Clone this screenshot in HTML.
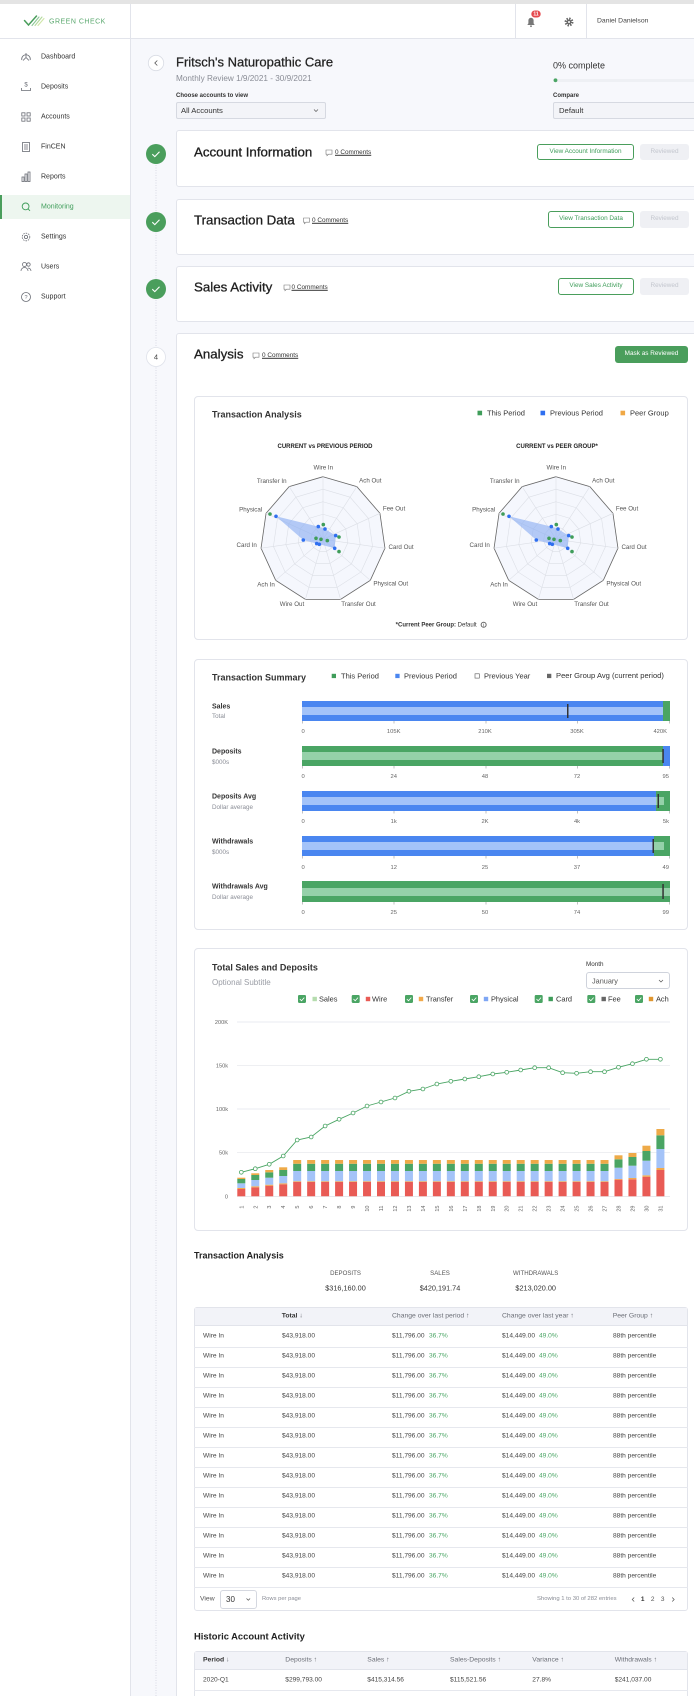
<!DOCTYPE html>
<html><head><meta charset="utf-8"><title>Monitoring</title>
<style>
*{box-sizing:border-box}
html,body{margin:0;padding:0;width:694px;height:1696px;overflow:hidden;background:#f7f8fc}
#p{position:relative;width:694px;height:1696px;overflow:hidden;background:#f7f8fc;font-family:"Liberation Sans",Arial,sans-serif;color:#333}
.t{position:absolute;white-space:nowrap;line-height:1;transform:translateY(-50%)}
.t.c{transform:translate(-50%,-50%)}
.b{position:absolute}
.card{position:absolute;background:#fff;border:1px solid #e2e4eb;border-radius:3px}
.btn{position:absolute;display:flex;align-items:center;justify-content:center;border-radius:3px;font-size:6.4px;white-space:nowrap;line-height:1}
.gb{border:1px solid #4a9e5c;color:#3f9d5a;background:#fff}
.rv{background:#eff0f4;color:#c3c6ce}
.sb{font-size:7px;color:#333}
.ttl{font-size:13.3px;color:#1f1f1f;-webkit-text-stroke:0.3px #1f1f1f}
.cm{font-size:6.4px;color:#333;text-decoration:underline}
.row{position:absolute;left:0;width:694px;height:0}
.row span{position:absolute;white-space:nowrap;line-height:1;transform:translateY(-50%);font-size:6.6px;color:#444}
.row span.g{color:#4aa564}
.row.hd span{font-size:6.8px;color:#6b6e76}
.row.hd span.k{color:#333;font-weight:bold}
.ar{color:#4aa564}
.ln{position:absolute;left:194px;width:494px;height:1px;background:#e6e8ee}
.h9{font-size:9px;font-weight:bold;color:#333}
.lg{font-size:7.5px;color:#333}
.bl{font-size:7px;font-weight:bold;color:#333}
.bs{font-size:6.3px;color:#8a8d96}
</style></head><body>
<div id="p">

<!-- top strip & header -->
<div class="b" style="left:0;top:0;width:694px;height:4px;background:#e4e4e4"></div>
<div class="b" style="left:0;top:4px;width:694px;height:35px;background:#fff;border-bottom:1px solid #e2e4eb"></div>
<div class="b" style="left:130px;top:4px;width:1px;height:35px;background:#e2e4eb"></div>
<div class="b" style="left:515px;top:4px;width:1px;height:35px;background:#e2e4eb"></div>
<div class="b" style="left:586px;top:4px;width:1px;height:35px;background:#e2e4eb"></div>
<div class="t" style="left:49px;top:21.5px;font-size:7px;letter-spacing:0.5px;color:#5aa86e">GREEN CHECK</div>
<div class="t" style="left:597px;top:22px;font-size:6.8px;color:#444">Daniel Danielson</div>

<!-- sidebar -->
<div class="b" style="left:0;top:39px;width:131px;height:1657px;background:#fff;border-right:1px solid #e2e4eb"></div>
<div class="b" style="left:0;top:195px;width:130px;height:24px;background:#edf6ef;border-left:2px solid #4a9e5c"></div>
<div class="t sb" style="left:41px;top:57px">Dashboard</div>
<div class="t sb" style="left:41px;top:87px">Deposits</div>
<div class="t sb" style="left:41px;top:117px">Accounts</div>
<div class="t sb" style="left:41px;top:147px">FinCEN</div>
<div class="t sb" style="left:41px;top:177px">Reports</div>
<div class="t sb" style="left:41px;top:207px;color:#3f9d5a">Monitoring</div>
<div class="t sb" style="left:41px;top:237px">Settings</div>
<div class="t sb" style="left:41px;top:267px">Users</div>
<div class="t sb" style="left:41px;top:297px">Support</div>

<!-- page header -->
<div class="t" style="left:176px;top:62px;font-size:13px;color:#222;-webkit-text-stroke:0.25px #222">Fritsch's Naturopathic Care</div>
<div class="t" style="left:176px;top:79px;font-size:8.2px;color:#8a8d96">Monthly Review 1/9/2021 - 30/9/2021</div>
<div class="t" style="left:176px;top:96px;font-size:6px;font-weight:bold;color:#333">Choose accounts to view</div>
<div class="b" style="left:176px;top:102px;width:150px;height:17px;background:#f3f4f8;border:1px solid #d6d9e1;border-radius:2px"></div>
<div class="t" style="left:181px;top:110.5px;font-size:7.7px;color:#333">All Accounts</div>
<div class="t" style="left:553px;top:66px;font-size:9px;color:#333">0% complete</div>
<div class="b" style="left:553px;top:78.5px;width:160px;height:3.5px;background:#eef0f4;border-radius:2px"></div>
<div class="t" style="left:553px;top:96px;font-size:6px;font-weight:bold;color:#333">Compare</div>
<div class="b" style="left:553px;top:102px;width:160px;height:17px;background:#f3f4f8;border:1px solid #d6d9e1;border-radius:2px"></div>
<div class="t" style="left:559px;top:110.5px;font-size:7.7px;color:#333">Default</div>

<!-- step cards -->
<div class="card" style="left:176px;top:130px;width:540px;height:57px"></div>
<div class="card" style="left:176px;top:199px;width:540px;height:56px"></div>
<div class="card" style="left:176px;top:266px;width:540px;height:56px"></div>
<div class="card" style="left:176px;top:333px;width:540px;height:1400px"></div>

<div class="t ttl" style="left:194px;top:152px">Account Information</div>
<div class="t cm" style="left:335px;top:153px">0 Comments</div>
<div class="btn gb" style="left:537px;top:144px;width:97px;height:16px">View Account Information</div>
<div class="btn rv" style="left:640px;top:144px;width:49px;height:16px">Reviewed</div>

<div class="t ttl" style="left:194px;top:220px">Transaction Data</div>
<div class="t cm" style="left:312px;top:221px">0 Comments</div>
<div class="btn gb" style="left:548px;top:211px;width:86px;height:17px">View Transaction Data</div>
<div class="btn rv" style="left:640px;top:211px;width:49px;height:17px">Reviewed</div>

<div class="t ttl" style="left:194px;top:287px">Sales Activity</div>
<div class="t cm" style="left:291.5px;top:288px">0 Comments</div>
<div class="btn gb" style="left:558px;top:278px;width:76px;height:17px">View Sales Activity</div>
<div class="btn rv" style="left:640px;top:278px;width:49px;height:17px">Reviewed</div>

<div class="t ttl" style="left:194px;top:354px">Analysis</div>
<div class="t cm" style="left:262px;top:356px">0 Comments</div>
<div class="btn" style="left:615px;top:346px;width:73px;height:17px;background:#4a9e5c;color:#fff">Mask as Reviewed</div>

<!-- inner card: radar -->
<div class="card" style="left:194px;top:396px;width:494px;height:244px;border-radius:4px"></div>
<div class="t h9" style="left:212px;top:415px">Transaction Analysis</div>
<div class="t lg" style="left:487px;top:413px">This Period</div>
<div class="t lg" style="left:550px;top:413px">Previous Period</div>
<div class="t lg" style="left:630px;top:413px">Peer Group</div>
<div class="t c" style="left:325px;top:447px;font-size:6px;font-weight:bold;color:#222">CURRENT vs PREVIOUS PERIOD</div>
<div class="t c" style="left:557px;top:447px;font-size:6px;font-weight:bold;color:#222">CURRENT vs PEER GROUP*</div>
<div class="t c" style="left:441px;top:625px;font-size:6px;color:#333"><b>*Current Peer Group:</b> Default <span style="display:inline-block;width:6px;height:6px;border:0.6px solid #666;border-radius:50%;font-size:4.5px;text-align:center;line-height:5.5px;vertical-align:middle;margin-left:2px">i</span></div>

<!-- inner card: summary -->
<div class="card" style="left:194px;top:659px;width:494px;height:271px;border-radius:4px"></div>
<div class="t h9" style="left:212px;top:678px">Transaction Summary</div>
<div class="t lg" style="left:341px;top:676px">This Period</div>
<div class="t lg" style="left:404px;top:676px">Previous Period</div>
<div class="t lg" style="left:484px;top:676px">Previous Year</div>
<div class="t lg" style="left:556px;top:676px;font-size:7.6px">Peer Group Avg (current period)</div>
<div class="t bl" style="left:212px;top:707px">Sales</div>
<div class="t bs" style="left:212px;top:717px">Total</div>
<div class="t bl" style="left:212px;top:752px">Deposits</div>
<div class="t bs" style="left:212px;top:763px">$000s</div>
<div class="t bl" style="left:212px;top:797px">Deposits Avg</div>
<div class="t bs" style="left:212px;top:808px">Dollar average</div>
<div class="t bl" style="left:212px;top:842px">Withdrawals</div>
<div class="t bs" style="left:212px;top:853px">$000s</div>
<div class="t bl" style="left:212px;top:887px">Withdrawals Avg</div>
<div class="t bs" style="left:212px;top:898px">Dollar average</div>

<!-- inner card: total sales -->
<div class="card" style="left:194px;top:948px;width:494px;height:283px;border-radius:4px"></div>
<div class="t h9" style="left:212px;top:968px">Total Sales and Deposits</div>
<div class="t" style="left:212px;top:983px;font-size:8px;color:#9a9da5">Optional Subtitle</div>
<div class="t" style="left:586px;top:965px;font-size:6.3px;color:#333">Month</div>
<div class="b" style="left:586px;top:972px;width:84px;height:17px;border:1px solid #cfd3dc;border-radius:3px;background:#fff"></div>
<div class="t" style="left:592px;top:981px;font-size:7.3px;color:#555">January</div>
<div class="t lg" style="left:319px;top:999px;font-size:7.4px">Sales</div>
<div class="t lg" style="left:372px;top:999px;font-size:7.4px">Wire</div>
<div class="t lg" style="left:426px;top:999px;font-size:7.4px">Transfer</div>
<div class="t lg" style="left:491px;top:999px;font-size:7.4px">Physical</div>
<div class="t lg" style="left:556px;top:999px;font-size:7.4px">Card</div>
<div class="t lg" style="left:608px;top:999px;font-size:7.4px">Fee</div>
<div class="t lg" style="left:656px;top:999px;font-size:7.4px">Ach</div>

<!-- transaction analysis table -->
<div class="t" style="left:194px;top:1256px;font-size:9px;font-weight:bold;color:#222">Transaction Analysis</div>
<div class="t c" style="left:345.5px;top:1274px;font-size:6.1px;color:#555">DEPOSITS</div>
<div class="t c" style="left:345.5px;top:1288px;font-size:7.3px;color:#333">$316,160.00</div>
<div class="t c" style="left:440px;top:1274px;font-size:6.1px;color:#555">SALES</div>
<div class="t c" style="left:440px;top:1288px;font-size:7.3px;color:#333">$420,191.74</div>
<div class="t c" style="left:535.7px;top:1274px;font-size:6.1px;color:#555">WITHDRAWALS</div>
<div class="t c" style="left:535.7px;top:1288px;font-size:7.3px;color:#333">$213,020.00</div>

<div class="card" style="left:194px;top:1307px;width:494px;height:304px"></div>
<div class="b" style="left:195px;top:1308px;width:492px;height:18px;background:#f2f3f8;border-bottom:1px solid #e2e4eb"></div>
<div class="row hd" style="top:1317px"><span class="k" style="left:281.7px">Total <span class="ar" style="position:static;transform:none">↓</span></span><span style="left:392px">Change over last period ↑</span><span style="left:502px">Change over last year ↑</span><span style="left:612.7px">Peer Group ↑</span></div>
<div class="ln" style="top:1346.5px"></div>
<div class="ln" style="top:1366.5px"></div>
<div class="ln" style="top:1386.5px"></div>
<div class="ln" style="top:1406.5px"></div>
<div class="ln" style="top:1426.5px"></div>
<div class="ln" style="top:1446.5px"></div>
<div class="ln" style="top:1466.5px"></div>
<div class="ln" style="top:1486.5px"></div>
<div class="ln" style="top:1506.5px"></div>
<div class="ln" style="top:1526.5px"></div>
<div class="ln" style="top:1546.5px"></div>
<div class="ln" style="top:1566.5px"></div>
<div class="ln" style="top:1586.5px"></div>
<div class="row" style="top:1337px"><span style="left:203px">Wire In</span><span style="left:282px">$43,918.00</span><span style="left:392px">$11,796.00</span><span class="g" style="left:429px">36.7%</span><span style="left:502px">$14,449.00</span><span class="g" style="left:539px">49.0%</span><span style="left:613px">88th percentile</span></div>
<div class="row" style="top:1357px"><span style="left:203px">Wire In</span><span style="left:282px">$43,918.00</span><span style="left:392px">$11,796.00</span><span class="g" style="left:429px">36.7%</span><span style="left:502px">$14,449.00</span><span class="g" style="left:539px">49.0%</span><span style="left:613px">88th percentile</span></div>
<div class="row" style="top:1377px"><span style="left:203px">Wire In</span><span style="left:282px">$43,918.00</span><span style="left:392px">$11,796.00</span><span class="g" style="left:429px">36.7%</span><span style="left:502px">$14,449.00</span><span class="g" style="left:539px">49.0%</span><span style="left:613px">88th percentile</span></div>
<div class="row" style="top:1397px"><span style="left:203px">Wire In</span><span style="left:282px">$43,918.00</span><span style="left:392px">$11,796.00</span><span class="g" style="left:429px">36.7%</span><span style="left:502px">$14,449.00</span><span class="g" style="left:539px">49.0%</span><span style="left:613px">88th percentile</span></div>
<div class="row" style="top:1417px"><span style="left:203px">Wire In</span><span style="left:282px">$43,918.00</span><span style="left:392px">$11,796.00</span><span class="g" style="left:429px">36.7%</span><span style="left:502px">$14,449.00</span><span class="g" style="left:539px">49.0%</span><span style="left:613px">88th percentile</span></div>
<div class="row" style="top:1437px"><span style="left:203px">Wire In</span><span style="left:282px">$43,918.00</span><span style="left:392px">$11,796.00</span><span class="g" style="left:429px">36.7%</span><span style="left:502px">$14,449.00</span><span class="g" style="left:539px">49.0%</span><span style="left:613px">88th percentile</span></div>
<div class="row" style="top:1457px"><span style="left:203px">Wire In</span><span style="left:282px">$43,918.00</span><span style="left:392px">$11,796.00</span><span class="g" style="left:429px">36.7%</span><span style="left:502px">$14,449.00</span><span class="g" style="left:539px">49.0%</span><span style="left:613px">88th percentile</span></div>
<div class="row" style="top:1477px"><span style="left:203px">Wire In</span><span style="left:282px">$43,918.00</span><span style="left:392px">$11,796.00</span><span class="g" style="left:429px">36.7%</span><span style="left:502px">$14,449.00</span><span class="g" style="left:539px">49.0%</span><span style="left:613px">88th percentile</span></div>
<div class="row" style="top:1497px"><span style="left:203px">Wire In</span><span style="left:282px">$43,918.00</span><span style="left:392px">$11,796.00</span><span class="g" style="left:429px">36.7%</span><span style="left:502px">$14,449.00</span><span class="g" style="left:539px">49.0%</span><span style="left:613px">88th percentile</span></div>
<div class="row" style="top:1517px"><span style="left:203px">Wire In</span><span style="left:282px">$43,918.00</span><span style="left:392px">$11,796.00</span><span class="g" style="left:429px">36.7%</span><span style="left:502px">$14,449.00</span><span class="g" style="left:539px">49.0%</span><span style="left:613px">88th percentile</span></div>
<div class="row" style="top:1537px"><span style="left:203px">Wire In</span><span style="left:282px">$43,918.00</span><span style="left:392px">$11,796.00</span><span class="g" style="left:429px">36.7%</span><span style="left:502px">$14,449.00</span><span class="g" style="left:539px">49.0%</span><span style="left:613px">88th percentile</span></div>
<div class="row" style="top:1557px"><span style="left:203px">Wire In</span><span style="left:282px">$43,918.00</span><span style="left:392px">$11,796.00</span><span class="g" style="left:429px">36.7%</span><span style="left:502px">$14,449.00</span><span class="g" style="left:539px">49.0%</span><span style="left:613px">88th percentile</span></div>
<div class="row" style="top:1577px"><span style="left:203px">Wire In</span><span style="left:282px">$43,918.00</span><span style="left:392px">$11,796.00</span><span class="g" style="left:429px">36.7%</span><span style="left:502px">$14,449.00</span><span class="g" style="left:539px">49.0%</span><span style="left:613px">88th percentile</span></div>

<div class="t" style="left:200px;top:1599.5px;font-size:6.8px;color:#555">View</div>
<div class="b" style="left:220px;top:1590px;width:37px;height:19px;border:1px solid #d5d8e0;border-radius:3px;background:#fff"></div>
<div class="t" style="left:226px;top:1599.5px;font-size:8px;color:#333">30</div>
<div class="t" style="left:262px;top:1599.5px;font-size:5.8px;color:#8a8d96">Rows per page</div>
<div class="t" style="left:537px;top:1599.5px;font-size:5.9px;color:#8a8d96">Showing 1 to 30 of 282 entries</div>
<div class="t c" style="left:642.7px;top:1599.5px;font-size:6.5px;font-weight:bold;color:#333">1</div>
<div class="t c" style="left:652.7px;top:1599.5px;font-size:6.5px;color:#555">2</div>
<div class="t c" style="left:662.7px;top:1599.5px;font-size:6.5px;color:#555">3</div>

<!-- historic -->
<div class="t" style="left:194px;top:1636px;font-size:9.4px;font-weight:bold;color:#222">Historic Account Activity</div>
<div class="card" style="left:194px;top:1651px;width:494px;height:80px"></div>
<div class="b" style="left:195px;top:1652px;width:492px;height:18px;background:#f2f3f8;border-bottom:1px solid #e2e4eb"></div>
<div class="row hd" style="top:1661px"><span class="k" style="left:203px">Period <span class="ar" style="position:static;transform:none">↓</span></span><span style="left:285.3px">Deposits ↑</span><span style="left:367.3px">Sales ↑</span><span style="left:450px">Sales-Deposits ↑</span><span style="left:532.3px">Variance ↑</span><span style="left:614.7px">Withdrawals ↑</span></div>
<div class="row" style="top:1681px"><span style="left:203px">2020-Q1</span><span style="left:285.3px">$299,793.00</span><span style="left:367.3px">$415,314.56</span><span style="left:450px">$115,521.56</span><span style="left:532.3px">27.8%</span><span style="left:614.7px">$241,037.00</span></div>
<div class="ln" style="top:1690px"></div>

<!-- SVG overlay -->
<svg class="b" style="left:0;top:0" width="694" height="1696" viewBox="0 0 694 1696" font-family="Liberation Sans, Arial, sans-serif">
<!-- logo -->
<g fill="none" stroke-linecap="round">
<polyline points="24.5,20.5 28.5,25 36.5,16" stroke="#4a9e5c" stroke-width="1.5"/>
<line x1="32" y1="25.5" x2="39" y2="17" stroke="#8cc79a" stroke-width="1.1"/>
<line x1="35" y1="25.5" x2="42" y2="17" stroke="#b2d99b" stroke-width="1.1"/>
<line x1="38" y1="25.5" x2="44" y2="18.5" stroke="#cfe6a8" stroke-width="1.1"/>
</g>
<!-- bell -->
<path d="M527.3,25 L534.7,25 L533.6,23.4 L533.6,20.3 A2.6,2.6 0 0 0 528.4,20.3 L528.4,23.4 Z" fill="#777"/>
<circle cx="531" cy="26.2" r="0.9" fill="#777"/>
<rect x="531.3" y="10.5" width="9.4" height="7" rx="3.5" fill="#e5484d"/>
<text x="536" y="15.6" font-size="5" fill="#fff" font-weight="bold" text-anchor="middle">11</text>
<!-- gear -->
<circle cx="569" cy="22" r="3.3" fill="none" stroke="#666" stroke-width="2.3" stroke-dasharray="1.4 1.2"/>
<circle cx="569" cy="22" r="2.5" fill="#666"/>
<circle cx="569" cy="22" r="1" fill="#fff"/>

<!-- sidebar icons -->
<g fill="none" stroke="#6a6d75" stroke-width="0.8">
<path d="M21.8,60 A4.3,4.3 0 1 1 30.2,60"/><path d="M23,60.5 L26,57.5 L29,60.5"/><line x1="26" y1="53" x2="26" y2="57"/>
<path d="M21.5,88 v2.5 h9 v-2.5"/>
<rect x="21.8" y="112.8" width="3.2" height="3.2"/><rect x="27" y="112.8" width="3.2" height="3.2"/><rect x="21.8" y="118" width="3.2" height="3.2"/><rect x="27" y="118" width="3.2" height="3.2"/>
<rect x="22.5" y="142.5" width="7" height="9"/><line x1="24" y1="145" x2="28" y2="145"/><line x1="24" y1="147" x2="28" y2="147"/><line x1="24" y1="149" x2="28" y2="149"/>
<rect x="22" y="177" width="2" height="4.5"/><rect x="25" y="174" width="2" height="7.5"/><rect x="28" y="172" width="2" height="9.5"/>
<circle cx="26" cy="237" r="3.8" stroke-dasharray="1.5 1"/><circle cx="26" cy="237" r="1.6"/>
<circle cx="24.5" cy="264.5" r="2"/><path d="M21,271 a3.5,3.5 0 0 1 7,0"/><circle cx="28.5" cy="264.5" r="1.7"/><path d="M28,268 a3,3 0 0 1 3,3"/>
<circle cx="26" cy="297" r="4.5"/>
</g>
<text x="26" y="86.5" font-size="6" fill="#6a6d75" text-anchor="middle">$</text>
<text x="26" y="299.2" font-size="5.5" fill="#6a6d75" text-anchor="middle">?</text>
<circle cx="25.6" cy="206.4" r="3.4" fill="none" stroke="#3f9d5a" stroke-width="0.9"/>
<line x1="28" y1="208.8" x2="30" y2="210.8" stroke="#3f9d5a" stroke-width="0.9"/>

<!-- back button & selects -->
<circle cx="156" cy="63" r="7.7" fill="#fff" stroke="#d9dce4" stroke-width="0.8"/>
<polyline points="157.3,60.5 154.8,63 157.3,65.5" fill="none" stroke="#555" stroke-width="0.8"/>
<polyline points="314,109.5 316,111.5 318,109.5" fill="none" stroke="#555" stroke-width="0.7"/>
<circle cx="555.5" cy="80.3" r="1.9" fill="#4aa564"/>

<!-- step line & circles -->
<line x1="156" y1="160" x2="156" y2="1696" stroke="#d0d3dc" stroke-width="0.8" stroke-dasharray="1 1.5"/>
<g>
<circle cx="156" cy="154" r="10" fill="#4a9e5c"/><polyline points="152.3,154.2 154.8,156.6 159.5,151.8" fill="none" stroke="#fff" stroke-width="1.1"/>
<circle cx="156" cy="222" r="10" fill="#4a9e5c"/><polyline points="152.3,222.2 154.8,224.6 159.5,219.8" fill="none" stroke="#fff" stroke-width="1.1"/>
<circle cx="156" cy="289" r="10" fill="#4a9e5c"/><polyline points="152.3,289.2 154.8,291.6 159.5,286.8" fill="none" stroke="#fff" stroke-width="1.1"/>
<circle cx="156" cy="357" r="9.5" fill="#fff" stroke="#dfe2ea" stroke-width="0.8"/>
<text x="156" y="359.7" font-size="7.5" fill="#444" text-anchor="middle">4</text>
</g>

<!-- comment icons -->
<g fill="none" stroke="#777" stroke-width="0.6">
<path d="M326,150 h6 v4.2 h-3.4 l-1.6,1.5 v-1.5 h-1 z"/>
<path d="M303.5,218 h6 v4.2 h-3.4 l-1.6,1.5 v-1.5 h-1 z"/>
<path d="M284,285 h6 v4.2 h-3.4 l-1.6,1.5 v-1.5 h-1 z"/>
<path d="M253,353 h6 v4.2 h-3.4 l-1.6,1.5 v-1.5 h-1 z"/>
</g>

<!-- radar legend -->
<rect x="477.5" y="410.7" width="4.6" height="4.6" fill="#3f9d5a"/>
<rect x="540.5" y="410.7" width="4.6" height="4.6" fill="#2f6ff0"/>
<rect x="620.5" y="410.7" width="4.6" height="4.6" fill="#f0a845"/>

<!-- radar 1 -->
<g transform="translate(323,539.3)">
<polygon points="0,-1 0.5406,-0.8413 0.9096,-0.4154 0.9898,0.1423 0.7557,0.6549 0.2817,0.9595 -0.2817,0.9595 -0.7557,0.6549 -0.9898,0.1423 -0.9096,-0.4154 -0.5406,-0.8413" transform="scale(62.6)" fill="#f5f7fd" stroke="#666" stroke-width="0.8" vector-effect="non-scaling-stroke"/>
<g fill="none" stroke="#dcdfe6" stroke-width="0.6">
<polygon points="0,-1 0.5406,-0.8413 0.9096,-0.4154 0.9898,0.1423 0.7557,0.6549 0.2817,0.9595 -0.2817,0.9595 -0.7557,0.6549 -0.9898,0.1423 -0.9096,-0.4154 -0.5406,-0.8413" transform="scale(50.08)" vector-effect="non-scaling-stroke"/>
<polygon points="0,-1 0.5406,-0.8413 0.9096,-0.4154 0.9898,0.1423 0.7557,0.6549 0.2817,0.9595 -0.2817,0.9595 -0.7557,0.6549 -0.9898,0.1423 -0.9096,-0.4154 -0.5406,-0.8413" transform="scale(37.56)" vector-effect="non-scaling-stroke"/>
<polygon points="0,-1 0.5406,-0.8413 0.9096,-0.4154 0.9898,0.1423 0.7557,0.6549 0.2817,0.9595 -0.2817,0.9595 -0.7557,0.6549 -0.9898,0.1423 -0.9096,-0.4154 -0.5406,-0.8413" transform="scale(25.04)" vector-effect="non-scaling-stroke"/>
<polygon points="0,-1 0.5406,-0.8413 0.9096,-0.4154 0.9898,0.1423 0.7557,0.6549 0.2817,0.9595 -0.2817,0.9595 -0.7557,0.6549 -0.9898,0.1423 -0.9096,-0.4154 -0.5406,-0.8413" transform="scale(12.52)" vector-effect="non-scaling-stroke"/>
<path d="M0,0L0,-62.6M0,0L33.84,-52.67M0,0L56.94,-26M0,0L61.96,8.91M0,0L47.31,41M0,0L17.63,60.06M0,0L-17.63,60.06M0,0L-47.31,41M0,0L-61.96,8.91M0,0L-56.94,-26M0,0L-33.84,-52.67"/>
</g>
<polygon points="2,-10.3 12.7,-3.7 11.7,9 -3.7,5 -6.3,4.3 -19.7,0.7 -47,-23 -4.7,-12.7" fill="#8fb1f3" fill-opacity="0.65"/>
<g fill="#2f6ff0">
<circle cx="2" cy="-10.3" r="1.8"/><circle cx="12.7" cy="-3.7" r="1.8"/><circle cx="11.7" cy="9" r="1.8"/><circle cx="-3.7" cy="5" r="1.8"/><circle cx="-6.3" cy="4.3" r="1.8"/><circle cx="-19.7" cy="0.7" r="1.8"/><circle cx="-47" cy="-23" r="1.8"/><circle cx="-4.7" cy="-12.7" r="1.8"/>
</g>
<g fill="#3f9d5a">
<circle cx="-53" cy="-25.3" r="1.8"/><circle cx="0.3" cy="-14.7" r="1.8"/><circle cx="16" cy="-2.3" r="1.8"/><circle cx="4.3" cy="1.3" r="1.8"/><circle cx="-2" cy="0" r="1.8"/><circle cx="-7" cy="-1" r="1.8"/><circle cx="16" cy="12.3" r="1.8"/>
</g>
</g>
<!-- radar 2 -->
<g transform="translate(556,539.3)">
<polygon points="0,-1 0.5406,-0.8413 0.9096,-0.4154 0.9898,0.1423 0.7557,0.6549 0.2817,0.9595 -0.2817,0.9595 -0.7557,0.6549 -0.9898,0.1423 -0.9096,-0.4154 -0.5406,-0.8413" transform="scale(62.6)" fill="#f5f7fd" stroke="#666" stroke-width="0.8" vector-effect="non-scaling-stroke"/>
<g fill="none" stroke="#dcdfe6" stroke-width="0.6">
<polygon points="0,-1 0.5406,-0.8413 0.9096,-0.4154 0.9898,0.1423 0.7557,0.6549 0.2817,0.9595 -0.2817,0.9595 -0.7557,0.6549 -0.9898,0.1423 -0.9096,-0.4154 -0.5406,-0.8413" transform="scale(50.08)" vector-effect="non-scaling-stroke"/>
<polygon points="0,-1 0.5406,-0.8413 0.9096,-0.4154 0.9898,0.1423 0.7557,0.6549 0.2817,0.9595 -0.2817,0.9595 -0.7557,0.6549 -0.9898,0.1423 -0.9096,-0.4154 -0.5406,-0.8413" transform="scale(37.56)" vector-effect="non-scaling-stroke"/>
<polygon points="0,-1 0.5406,-0.8413 0.9096,-0.4154 0.9898,0.1423 0.7557,0.6549 0.2817,0.9595 -0.2817,0.9595 -0.7557,0.6549 -0.9898,0.1423 -0.9096,-0.4154 -0.5406,-0.8413" transform="scale(25.04)" vector-effect="non-scaling-stroke"/>
<polygon points="0,-1 0.5406,-0.8413 0.9096,-0.4154 0.9898,0.1423 0.7557,0.6549 0.2817,0.9595 -0.2817,0.9595 -0.7557,0.6549 -0.9898,0.1423 -0.9096,-0.4154 -0.5406,-0.8413" transform="scale(12.52)" vector-effect="non-scaling-stroke"/>
<path d="M0,0L0,-62.6M0,0L33.84,-52.67M0,0L56.94,-26M0,0L61.96,8.91M0,0L47.31,41M0,0L17.63,60.06M0,0L-17.63,60.06M0,0L-47.31,41M0,0L-61.96,8.91M0,0L-56.94,-26M0,0L-33.84,-52.67"/>
</g>
<polygon points="2,-10.3 12.7,-3.7 11.7,9 -3.7,5 -6.3,4.3 -19.7,0.7 -47,-23 -4.7,-12.7" fill="#8fb1f3" fill-opacity="0.65"/>
<g fill="#2f6ff0">
<circle cx="2" cy="-10.3" r="1.8"/><circle cx="12.7" cy="-3.7" r="1.8"/><circle cx="11.7" cy="9" r="1.8"/><circle cx="-3.7" cy="5" r="1.8"/><circle cx="-6.3" cy="4.3" r="1.8"/><circle cx="-19.7" cy="0.7" r="1.8"/><circle cx="-47" cy="-23" r="1.8"/><circle cx="-4.7" cy="-12.7" r="1.8"/>
</g>
<g fill="#3f9d5a">
<circle cx="-53" cy="-25.3" r="1.8"/><circle cx="0.3" cy="-14.7" r="1.8"/><circle cx="16" cy="-2.3" r="1.8"/><circle cx="4.3" cy="1.3" r="1.8"/><circle cx="-2" cy="0" r="1.8"/><circle cx="-7" cy="-1" r="1.8"/><circle cx="16" cy="12.3" r="1.8"/>
</g>
</g>
<!-- radar labels -->
<g font-size="6.2" fill="#555" text-anchor="middle">
<text x="323.3" y="469.5">Wire In</text>
<text x="271.7" y="482.9">Transfer In</text>
<text x="370.3" y="482.5">Ach Out</text>
<text x="250.7" y="511.5">Physical</text>
<text x="394" y="510.5">Fee Out</text>
<text x="246.7" y="547.2">Card In</text>
<text x="401" y="548.9">Card Out</text>
<text x="266" y="586.5">Ach In</text>
<text x="390.7" y="585.5">Physical Out</text>
<text x="292" y="606.2">Wire Out</text>
<text x="358.5" y="606.2">Transfer Out</text>
<text x="556.3" y="469.5">Wire In</text>
<text x="504.7" y="482.9">Transfer In</text>
<text x="603.3" y="482.5">Ach Out</text>
<text x="483.7" y="511.5">Physical</text>
<text x="627" y="510.5">Fee Out</text>
<text x="479.7" y="547.2">Card In</text>
<text x="634" y="548.9">Card Out</text>
<text x="499" y="586.5">Ach In</text>
<text x="623.7" y="585.5">Physical Out</text>
<text x="525" y="606.2">Wire Out</text>
<text x="591.5" y="606.2">Transfer Out</text>
</g>

<!-- summary legend -->
<rect x="331.7" y="673.8" width="4.3" height="4.3" fill="#3f9d5a"/>
<rect x="395.3" y="673.8" width="4.3" height="4.3" fill="#4a86f0"/>
<rect x="475" y="673.8" width="4.3" height="4.3" fill="#fff" stroke="#555" stroke-width="0.6"/>
<rect x="547" y="673.8" width="4.3" height="4.3" fill="#666"/>

<!-- summary bars -->
<g>
<rect x="302" y="701" width="361" height="20" fill="#4a86f0"/><rect x="663" y="701" width="7" height="20" fill="#4aa564"/>
<rect x="302" y="707" width="361" height="8" fill="#a3c3f9"/>
<rect x="567" y="704" width="1.5" height="14" fill="#333"/>

<rect x="302" y="746" width="361" height="20" fill="#4aa564"/><rect x="663" y="746" width="7" height="20" fill="#4a86f0"/>
<rect x="302" y="752" width="361" height="8" fill="#95d1a9"/>
<rect x="662.3" y="749" width="1.5" height="14" fill="#333"/>

<rect x="302" y="791" width="354" height="20" fill="#4a86f0"/><rect x="656" y="791" width="14" height="20" fill="#4aa564"/>
<rect x="302" y="797" width="354" height="8" fill="#a3c3f9"/><rect x="656" y="797" width="8" height="8" fill="#95d1a9"/>
<rect x="657.5" y="794" width="1.5" height="14" fill="#333"/>

<rect x="302" y="836" width="352" height="20" fill="#4a86f0"/><rect x="654" y="836" width="16" height="20" fill="#4aa564"/>
<rect x="302" y="842" width="352" height="8" fill="#a3c3f9"/><rect x="654" y="842" width="10" height="8" fill="#95d1a9"/>
<rect x="652.5" y="839" width="1.5" height="14" fill="#333"/>

<rect x="302" y="881" width="368" height="21" fill="#4aa564"/>
<rect x="302" y="888" width="368" height="8" fill="#95d1a9"/>
<rect x="662.3" y="884" width="1.5" height="15" fill="#333"/>
</g>
<g stroke="#999" stroke-width="0.6">
<path d="M302.3,721v2.5M394,721v2.5M486,721v2.5M577.5,721v2.5M669.5,721v2.5"/>
<path d="M302.3,766v2.5M394,766v2.5M486,766v2.5M577.5,766v2.5M669.5,766v2.5"/>
<path d="M302.3,811v2.5M394,811v2.5M486,811v2.5M577.5,811v2.5M669.5,811v2.5"/>
<path d="M302.3,856v2.5M394,856v2.5M486,856v2.5M577.5,856v2.5M669.5,856v2.5"/>
<path d="M302.3,902v2.5M394,902v2.5M486,902v2.5M577.5,902v2.5M669.5,902v2.5"/>
</g>
<g font-size="5.8" fill="#666">
<text x="301.5" y="733.1">0</text><text x="393.7" y="733.1" text-anchor="middle">105K</text><text x="485" y="733.1" text-anchor="middle">210K</text><text x="577" y="733.1" text-anchor="middle">305K</text><text x="667" y="733.1" text-anchor="end">420K</text>
<text x="301.5" y="778.1">0</text><text x="393.7" y="778.1" text-anchor="middle">24</text><text x="485" y="778.1" text-anchor="middle">48</text><text x="577" y="778.1" text-anchor="middle">72</text><text x="669" y="778.1" text-anchor="end">95</text>
<text x="301.5" y="823.1">0</text><text x="393.7" y="823.1" text-anchor="middle">1k</text><text x="485" y="823.1" text-anchor="middle">2K</text><text x="577" y="823.1" text-anchor="middle">4k</text><text x="669" y="823.1" text-anchor="end">5k</text>
<text x="301.5" y="869.1">0</text><text x="393.7" y="869.1" text-anchor="middle">12</text><text x="485" y="869.1" text-anchor="middle">25</text><text x="577" y="869.1" text-anchor="middle">37</text><text x="669" y="869.1" text-anchor="end">49</text>
<text x="301.5" y="914.1">0</text><text x="393.7" y="914.1" text-anchor="middle">25</text><text x="485" y="914.1" text-anchor="middle">50</text><text x="577" y="914.1" text-anchor="middle">74</text><text x="669" y="914.1" text-anchor="end">99</text>
</g>

<!-- month chevron -->
<polyline points="659,980 661,982 663,980" fill="none" stroke="#555" stroke-width="0.7"/>

<!-- total sales legend -->
<g>
<rect x="298" y="995" width="8" height="8" rx="1.2" fill="#4aa564"/>
<rect x="351.7" y="995" width="8" height="8" rx="1.2" fill="#4aa564"/>
<rect x="405" y="995" width="8" height="8" rx="1.2" fill="#4aa564"/>
<rect x="470" y="995" width="8" height="8" rx="1.2" fill="#4aa564"/>
<rect x="534.7" y="995" width="8" height="8" rx="1.2" fill="#4aa564"/>
<rect x="587.3" y="995" width="8" height="8" rx="1.2" fill="#4aa564"/>
<rect x="635" y="995" width="8" height="8" rx="1.2" fill="#4aa564"/>
</g>
<g fill="none" stroke="#fff" stroke-width="0.8">
<polyline points="299.8,999 301.5,1000.8 304.3,997.6"/>
<polyline points="353.5,999 355.2,1000.8 358,997.6"/>
<polyline points="406.8,999 408.5,1000.8 411.3,997.6"/>
<polyline points="471.8,999 473.5,1000.8 476.3,997.6"/>
<polyline points="536.5,999 538.2,1000.8 541,997.6"/>
<polyline points="589.1,999 590.8,1000.8 593.6,997.6"/>
<polyline points="636.8,999 638.5,1000.8 641.3,997.6"/>
</g>
<rect x="312.5" y="996.8" width="4.4" height="4.4" fill="#b5dcae"/>
<rect x="365.8" y="996.8" width="4.4" height="4.4" fill="#e95b55"/>
<rect x="418.8" y="996.8" width="4.4" height="4.4" fill="#f2a94a"/>
<rect x="483.8" y="996.8" width="4.4" height="4.4" fill="#7ea6f4"/>
<rect x="548.5" y="996.8" width="4.4" height="4.4" fill="#3f9d5a"/>
<rect x="601.5" y="996.8" width="4.4" height="4.4" fill="#666"/>
<rect x="648.8" y="996.8" width="4.4" height="4.4" fill="#e0962e"/>

<!-- chart grid -->
<g stroke="#e3e5eb" stroke-width="0.7">
<line x1="237" y1="1022" x2="670" y2="1022"/>
<line x1="237" y1="1065.3" x2="670" y2="1065.3"/>
<line x1="237" y1="1109" x2="670" y2="1109"/>
<line x1="237" y1="1152.7" x2="670" y2="1152.7"/>
<line x1="237" y1="1196.3" x2="670" y2="1196.3" stroke="#d6d9e0"/>
</g>
<g font-size="5.6" fill="#666" text-anchor="end">
<text x="228" y="1024">200K</text>
<text x="228" y="1067.3">150k</text>
<text x="228" y="1111">100k</text>
<text x="228" y="1154.7">50k</text>
<text x="228" y="1198.3">0</text>
</g>

<!-- bars 5-27 via dashes -->
<g stroke-dasharray="8 5.97" fill="none">
<line x1="293.18" y1="1189.15" x2="608.52" y2="1189.15" stroke="#e95b55" stroke-width="14.3"/>
<line x1="293.18" y1="1181.65" x2="608.52" y2="1181.65" stroke="#f2a94a" stroke-width="0.7"/>
<line x1="293.18" y1="1176.15" x2="608.52" y2="1176.15" stroke="#a4c3f8" stroke-width="10.3"/>
<line x1="293.18" y1="1167.35" x2="608.52" y2="1167.35" stroke="#4aa564" stroke-width="7.3"/>
<line x1="293.18" y1="1161.85" x2="608.52" y2="1161.85" stroke="#eeaa48" stroke-width="3.7"/>
</g>
<!-- bars 1-4, 28-31 -->
<g>
<rect x="237.3" y="1189" width="8" height="7.3" fill="#e95b55"/><rect x="237.3" y="1188" width="8" height="1" fill="#f2a94a"/><rect x="237.3" y="1183.3" width="8" height="4.7" fill="#a4c3f8"/><rect x="237.3" y="1179" width="8" height="4.3" fill="#4aa564"/><rect x="237.3" y="1177.7" width="8" height="1.3" fill="#eeaa48"/>
<rect x="251.27" y="1187.3" width="8" height="9" fill="#e95b55"/><rect x="251.27" y="1186.3" width="8" height="1" fill="#f2a94a"/><rect x="251.27" y="1180" width="8" height="6.3" fill="#a4c3f8"/><rect x="251.27" y="1175" width="8" height="5" fill="#4aa564"/><rect x="251.27" y="1173.3" width="8" height="1.7" fill="#eeaa48"/>
<rect x="265.24" y="1185.7" width="8" height="10.6" fill="#e95b55"/><rect x="265.24" y="1184.7" width="8" height="1" fill="#f2a94a"/><rect x="265.24" y="1177.7" width="8" height="7" fill="#a4c3f8"/><rect x="265.24" y="1172.3" width="8" height="5.4" fill="#4aa564"/><rect x="265.24" y="1170" width="8" height="2.3" fill="#eeaa48"/>
<rect x="279.21" y="1184.3" width="8" height="12" fill="#e95b55"/><rect x="279.21" y="1183.3" width="8" height="1" fill="#f2a94a"/><rect x="279.21" y="1176" width="8" height="7.3" fill="#a4c3f8"/><rect x="279.21" y="1170" width="8" height="6" fill="#4aa564"/><rect x="279.21" y="1167.3" width="8" height="2.7" fill="#eeaa48"/>
<rect x="614.49" y="1179.7" width="8" height="16.6" fill="#e95b55"/><rect x="614.49" y="1179" width="8" height="0.7" fill="#f2a94a"/><rect x="614.49" y="1167.7" width="8" height="11.3" fill="#a4c3f8"/><rect x="614.49" y="1159.3" width="8" height="8.4" fill="#4aa564"/><rect x="614.49" y="1155.3" width="8" height="4" fill="#eeaa48"/>
<rect x="628.46" y="1179.3" width="8" height="17" fill="#e95b55"/><rect x="628.46" y="1178" width="8" height="1.3" fill="#f2a94a"/><rect x="628.46" y="1165.7" width="8" height="12.3" fill="#a4c3f8"/><rect x="628.46" y="1157" width="8" height="8.7" fill="#4aa564"/><rect x="628.46" y="1153" width="8" height="4" fill="#eeaa48"/>
<rect x="642.43" y="1176.7" width="8" height="19.6" fill="#e95b55"/><rect x="642.43" y="1175.3" width="8" height="1.4" fill="#f2a94a"/><rect x="642.43" y="1160.7" width="8" height="14.6" fill="#a4c3f8"/><rect x="642.43" y="1151" width="8" height="9.7" fill="#4aa564"/><rect x="642.43" y="1145.7" width="8" height="5.3" fill="#eeaa48"/>
<rect x="656.4" y="1170" width="8" height="26.3" fill="#e95b55"/><rect x="656.4" y="1168" width="8" height="2" fill="#f2a94a"/><rect x="656.4" y="1149" width="8" height="19" fill="#a4c3f8"/><rect x="656.4" y="1135.3" width="8" height="13.7" fill="#4aa564"/><rect x="656.4" y="1129" width="8" height="6.3" fill="#eeaa48"/>
</g>

<!-- sales line -->
<polyline fill="none" stroke="#4aa564" stroke-width="0.9" points="241.3,1172.3 255.27,1168.7 269.24,1164.3 283.21,1156 297.18,1140 311.15,1137 325.12,1126 339.09,1119.3 353.06,1113 367.03,1106 381,1102 394.97,1098 408.94,1091.3 422.91,1089 436.88,1084 450.85,1081.3 464.82,1079 478.79,1076.7 492.76,1074 506.73,1072.3 520.7,1070 534.67,1067.7 548.64,1067.7 562.61,1072.7 576.58,1073.3 590.55,1071.7 604.52,1071.7 618.49,1067.3 632.46,1063.7 646.43,1059.3 660.4,1059.3"/>
<g fill="#fff" stroke="#4aa564" stroke-width="0.8">
<circle cx="241.3" cy="1172.3" r="1.9"/><circle cx="255.27" cy="1168.7" r="1.9"/><circle cx="269.24" cy="1164.3" r="1.9"/><circle cx="283.21" cy="1156" r="1.9"/><circle cx="297.18" cy="1140" r="1.9"/><circle cx="311.15" cy="1137" r="1.9"/><circle cx="325.12" cy="1126" r="1.9"/><circle cx="339.09" cy="1119.3" r="1.9"/><circle cx="353.06" cy="1113" r="1.9"/><circle cx="367.03" cy="1106" r="1.9"/><circle cx="381" cy="1102" r="1.9"/><circle cx="394.97" cy="1098" r="1.9"/><circle cx="408.94" cy="1091.3" r="1.9"/><circle cx="422.91" cy="1089" r="1.9"/><circle cx="436.88" cy="1084" r="1.9"/><circle cx="450.85" cy="1081.3" r="1.9"/><circle cx="464.82" cy="1079" r="1.9"/><circle cx="478.79" cy="1076.7" r="1.9"/><circle cx="492.76" cy="1074" r="1.9"/><circle cx="506.73" cy="1072.3" r="1.9"/><circle cx="520.7" cy="1070" r="1.9"/><circle cx="534.67" cy="1067.7" r="1.9"/><circle cx="548.64" cy="1067.7" r="1.9"/><circle cx="562.61" cy="1072.7" r="1.9"/><circle cx="576.58" cy="1073.3" r="1.9"/><circle cx="590.55" cy="1071.7" r="1.9"/><circle cx="604.52" cy="1071.7" r="1.9"/><circle cx="618.49" cy="1067.3" r="1.9"/><circle cx="632.46" cy="1063.7" r="1.9"/><circle cx="646.43" cy="1059.3" r="1.9"/><circle cx="660.4" cy="1059.3" r="1.9"/>
</g>

<!-- x labels -->
<g font-size="5.5" fill="#666" text-anchor="end">
<text transform="translate(243.3,1205.5) rotate(-90)">1</text>
<text transform="translate(257.27,1205.5) rotate(-90)">2</text>
<text transform="translate(271.24,1205.5) rotate(-90)">3</text>
<text transform="translate(285.21,1205.5) rotate(-90)">4</text>
<text transform="translate(299.18,1205.5) rotate(-90)">5</text>
<text transform="translate(313.15,1205.5) rotate(-90)">6</text>
<text transform="translate(327.12,1205.5) rotate(-90)">7</text>
<text transform="translate(341.09,1205.5) rotate(-90)">8</text>
<text transform="translate(355.06,1205.5) rotate(-90)">9</text>
<text transform="translate(369.03,1205.5) rotate(-90)">10</text>
<text transform="translate(383,1205.5) rotate(-90)">11</text>
<text transform="translate(396.97,1205.5) rotate(-90)">12</text>
<text transform="translate(410.94,1205.5) rotate(-90)">13</text>
<text transform="translate(424.91,1205.5) rotate(-90)">14</text>
<text transform="translate(438.88,1205.5) rotate(-90)">15</text>
<text transform="translate(452.85,1205.5) rotate(-90)">16</text>
<text transform="translate(466.82,1205.5) rotate(-90)">17</text>
<text transform="translate(480.79,1205.5) rotate(-90)">18</text>
<text transform="translate(494.76,1205.5) rotate(-90)">19</text>
<text transform="translate(508.73,1205.5) rotate(-90)">20</text>
<text transform="translate(522.7,1205.5) rotate(-90)">21</text>
<text transform="translate(536.67,1205.5) rotate(-90)">22</text>
<text transform="translate(550.64,1205.5) rotate(-90)">23</text>
<text transform="translate(564.61,1205.5) rotate(-90)">24</text>
<text transform="translate(578.58,1205.5) rotate(-90)">25</text>
<text transform="translate(592.55,1205.5) rotate(-90)">26</text>
<text transform="translate(606.52,1205.5) rotate(-90)">27</text>
<text transform="translate(620.49,1205.5) rotate(-90)">28</text>
<text transform="translate(634.46,1205.5) rotate(-90)">29</text>
<text transform="translate(648.43,1205.5) rotate(-90)">30</text>
<text transform="translate(662.4,1205.5) rotate(-90)">31</text>
</g>

<!-- table footer icons -->
<polyline points="246.5,1598.5 248.3,1600.3 250.1,1598.5" fill="none" stroke="#555" stroke-width="0.7"/>
<polyline points="634.2,1597.5 632.2,1599.5 634.2,1601.5" fill="none" stroke="#555" stroke-width="0.7"/>
<polyline points="672.2,1597.5 674.2,1599.5 672.2,1601.5" fill="none" stroke="#555" stroke-width="0.7"/>
</svg>
</div>
</body></html>
